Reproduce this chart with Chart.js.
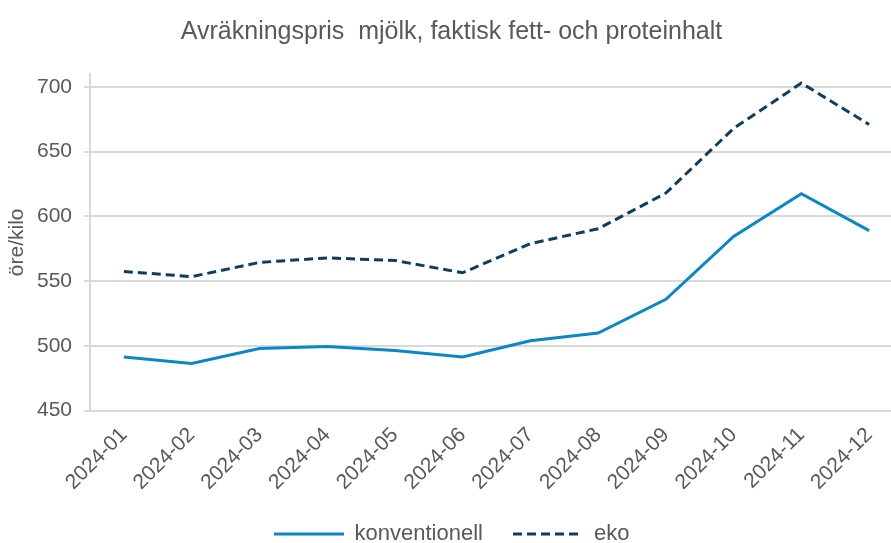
<!DOCTYPE html>
<html>
<head>
<meta charset="utf-8">
<script src="https://cdn.jsdelivr.net/npm/chart.js@4"></script>
<style>
  body { margin: 0; overflow: hidden; background: #fff; }
  #wrap { position: absolute; left: 0; top: 0; width: 903px; height: 555px; }
</style>
</head>
<body>
<div id="wrap"><canvas id="chart"></canvas></div>
<script>
// values (öre/kilo)
const months = ["2024-01", "2024-02", "2024-03", "2024-04", "2024-05", "2024-06",
                "2024-07", "2024-08", "2024-09", "2024-10", "2024-11", "2024-12"]
const konventionell = [491.5, 486.5, 498, 499.5, 496.5, 491.5, 504, 510, 536, 584.5, 617.5, 589]
const eko = [557.5, 553.5, 564.5, 568, 566, 556.5, 579, 590.5, 618, 668, 703, 671]
const yTicks = [450, 500, 550, 600, 650, 700]

const grey = "#595959"
const gridGrey = "#d9d9d9"
const blue = "#0b87c6"
const navy = "#0e3e5e"
Chart.defaults.font.family = "'Liberation Sans', Arial, sans-serif"
Chart.defaults.color = grey

// small line symbols for the legend (chart.js skips the dash on point styles)
function legendLine(color, dash) {
  const c = document.createElement("canvas")
  c.width = 70
  c.height = 4
  const g = c.getContext("2d")
  g.strokeStyle = color
  g.lineWidth = 3
  g.setLineDash(dash)
  g.beginPath()
  g.moveTo(0, 2)
  g.lineTo(70, 2)
  g.stroke()
  return c
}
const legendSymbols = [legendLine(blue, []), legendLine(navy, [9, 5])]

const ctx = document.getElementById("chart")
new Chart(ctx, {
  type: "line",
  data: {
    labels: months,
    datasets: [
      {
        label: "konventionell",
        data: konventionell,
        borderColor: blue,
        backgroundColor: blue,
        borderWidth: 3,
        pointRadius: 0,
        tension: 0
      },
      {
        label: "eko",
        data: eko,
        borderColor: navy,
        backgroundColor: navy,
        borderWidth: 3,
        borderDash: [9, 5],
        pointRadius: 0,
        tension: 0
      }
    ]
  },
  options: {
    responsive: true,
    maintainAspectRatio: false,
    animation: false,
    layout: { padding: 0 },
    plugins: {
      title: {
        display: true,
        text: "Avräkningspris  mjölk, faktisk fett- och proteinhalt",
        color: grey,
        font: { size: 25, weight: "normal" },
        padding: { top: 17, bottom: 27 }
      },
      legend: {
        position: "bottom",
        labels: {
          usePointStyle: true,
          pointStyleWidth: 70,
          color: grey,
          font: { size: 22 },
          padding: 30,
          generateLabels: (chart) => {
            const items = Chart.defaults.plugins.legend.labels.generateLabels(chart)
            items.forEach((it, i) => { it.pointStyle = legendSymbols[i] })
            return items
          }
        }
      },
      tooltip: { enabled: false }
    },
    scales: {
      x: {
        offset: true,
        grid: { display: false },
        border: { display: true, color: gridGrey, width: 2 },
        ticks: {
          minRotation: 45,
          maxRotation: 45,
          autoSkip: false,
          color: grey,
          font: { size: 21 },
          padding: 4
        },
        afterFit: (scale) => { scale.height -= 6 }
      },
      y: {
        min: 450,
        max: 710,
        afterBuildTicks: (scale) => {
          scale.ticks = yTicks.map(v => ({ value: v }))
        },
        afterFit: (scale) => { scale.width = 90 },
        grid: { color: gridGrey, lineWidth: 2, tickLength: 6 },
        border: { display: true, color: gridGrey, width: 2 },
        ticks: { color: grey, font: { size: 21 }, padding: 12 },
        title: {
          display: true,
          text: "öre/kilo",
          color: grey,
          font: { size: 21 },
          padding: { top: 5, bottom: 0 }
        }
      }
    }
  }
})
</script>
</body>
</html>
